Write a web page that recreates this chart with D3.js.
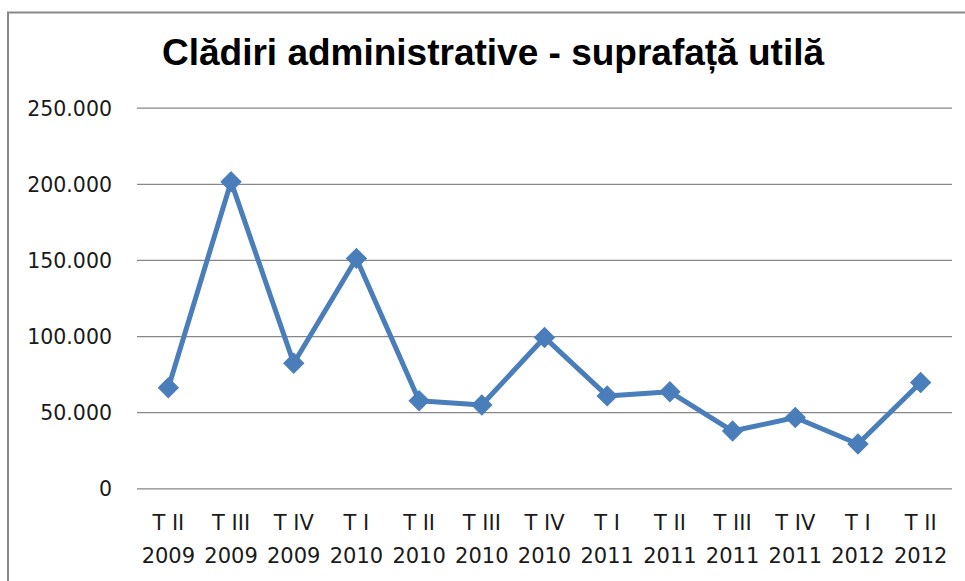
<!DOCTYPE html>
<html>
<head>
<meta charset="utf-8">
<script src="https://cdn.jsdelivr.net/npm/d3@7"></script>
<style>
  body { margin: 0; background: white; }
  svg { display: block; }
</style>
</head>
<body>
<div id="container"></div>
<script>
// data
var quarters = ["T II", "T III", "T IV", "T I", "T II", "T III", "T IV", "T I", "T II", "T III", "T IV", "T I", "T II"];
var years = ["2009", "2009", "2009", "2010", "2010", "2010", "2010", "2011", "2011", "2011", "2011", "2012", "2012"];
var values = [66100, 201400, 82100, 151000, 57500, 54700, 99100, 60700, 63400, 37600, 46500, 29100, 69500];
var yTicks = [0, 50000, 100000, 150000, 200000, 250000];
var title = "Clădiri administrative - suprafață utilă";

var w = 965;
var h = 581;
var svg = d3.select("div#container").append("svg")
    .attr("width", w)
    .attr("height", h)
    .style("background-color", "white");

var ro = d3.formatLocale({ decimal: ",", thousands: ".", grouping: [3], currency: ["", " lei"] });
var fmt = ro.format(",");

var rows = quarters.map(function(q, i) { return { key: i, q: q, y: years[i], v: values[i] }; });

// outer frame
svg.append("rect")
    .attr("x", 8).attr("y", 12.5)
    .attr("width", 1000).attr("height", 1000)
    .attr("fill", "none")
    .attr("stroke", "#878787")
    .attr("stroke-width", 2);

svg.append("text")
    .attr("x", 493)
    .attr("y", 65)
    .attr("text-anchor", "middle")
    .attr("font-family", "'Liberation Sans', Arial, sans-serif")
    .attr("font-weight", "bold")
    .attr("font-size", 37)
    .attr("fill", "#000")
    .text(title);

var x = d3.scaleBand()
    .domain(rows.map(function(d) { return d.key; }))
    .range([137, 952]);

var y = d3.scaleLinear()
    .domain([0, 250000])
    .range([488.3, 107.7]);

// gridlines + y labels
var yAxis = svg.append("g")
    .attr("transform", "translate(137,0)")
    .call(d3.axisLeft(y)
        .tickValues(yTicks)
        .tickSize(-815)
        .tickPadding(25)
        .tickFormat(function(d) { return fmt(d); }));
yAxis.select(".domain").remove();
yAxis.selectAll(".tick line")
    .attr("stroke", "#878787")
    .attr("stroke-width", 1.3);
yAxis.selectAll(".tick text")
    .attr("font-family", "'DejaVu Sans', sans-serif")
    .attr("font-size", 20.5)
    .attr("fill", "#1a1a1a")
    .attr("dy", "0.36em");

// x labels (two lines)
var xAxis = svg.append("g")
    .attr("transform", "translate(0,488.3)")
    .call(d3.axisBottom(x).tickSize(0).tickFormat(""));
xAxis.select(".domain").remove();
xAxis.selectAll(".tick text").remove();
xAxis.selectAll(".tick").each(function(k) {
    var t = d3.select(this);
    var r = rows[k];
    t.append("text")
        .attr("y", 42)
        .attr("text-anchor", "middle")
        .attr("font-family", "'DejaVu Sans', sans-serif")
        .attr("font-size", 21)
        .attr("fill", "#1a1a1a")
        .text(r.q);
    t.append("text")
        .attr("y", 75)
        .attr("text-anchor", "middle")
        .attr("font-family", "'DejaVu Sans', sans-serif")
        .attr("font-size", 21)
        .attr("fill", "#1a1a1a")
        .text(r.y);
});

var cx = function(d) { return x(d.key) + x.bandwidth() / 2; };

var line = d3.line()
    .x(cx)
    .y(function(d) { return y(d.v); });

svg.append("path")
    .datum(rows)
    .attr("d", line)
    .attr("fill", "none")
    .attr("stroke", "#4a7ebb")
    .attr("stroke-width", 5)
    .attr("stroke-linejoin", "round");

var diamond = d3.symbol().type(d3.symbolSquare).size(200);
svg.append("g")
    .selectAll("path")
    .data(rows)
    .enter().append("path")
    .attr("d", diamond)
    .attr("transform", function(d) { return "translate(" + cx(d) + "," + y(d.v) + ") rotate(45)"; })
    .attr("fill", "#4a7ebb")
    .attr("stroke", "#4a7ebb")
    .attr("stroke-width", 1);
</script>
</body>
</html>
